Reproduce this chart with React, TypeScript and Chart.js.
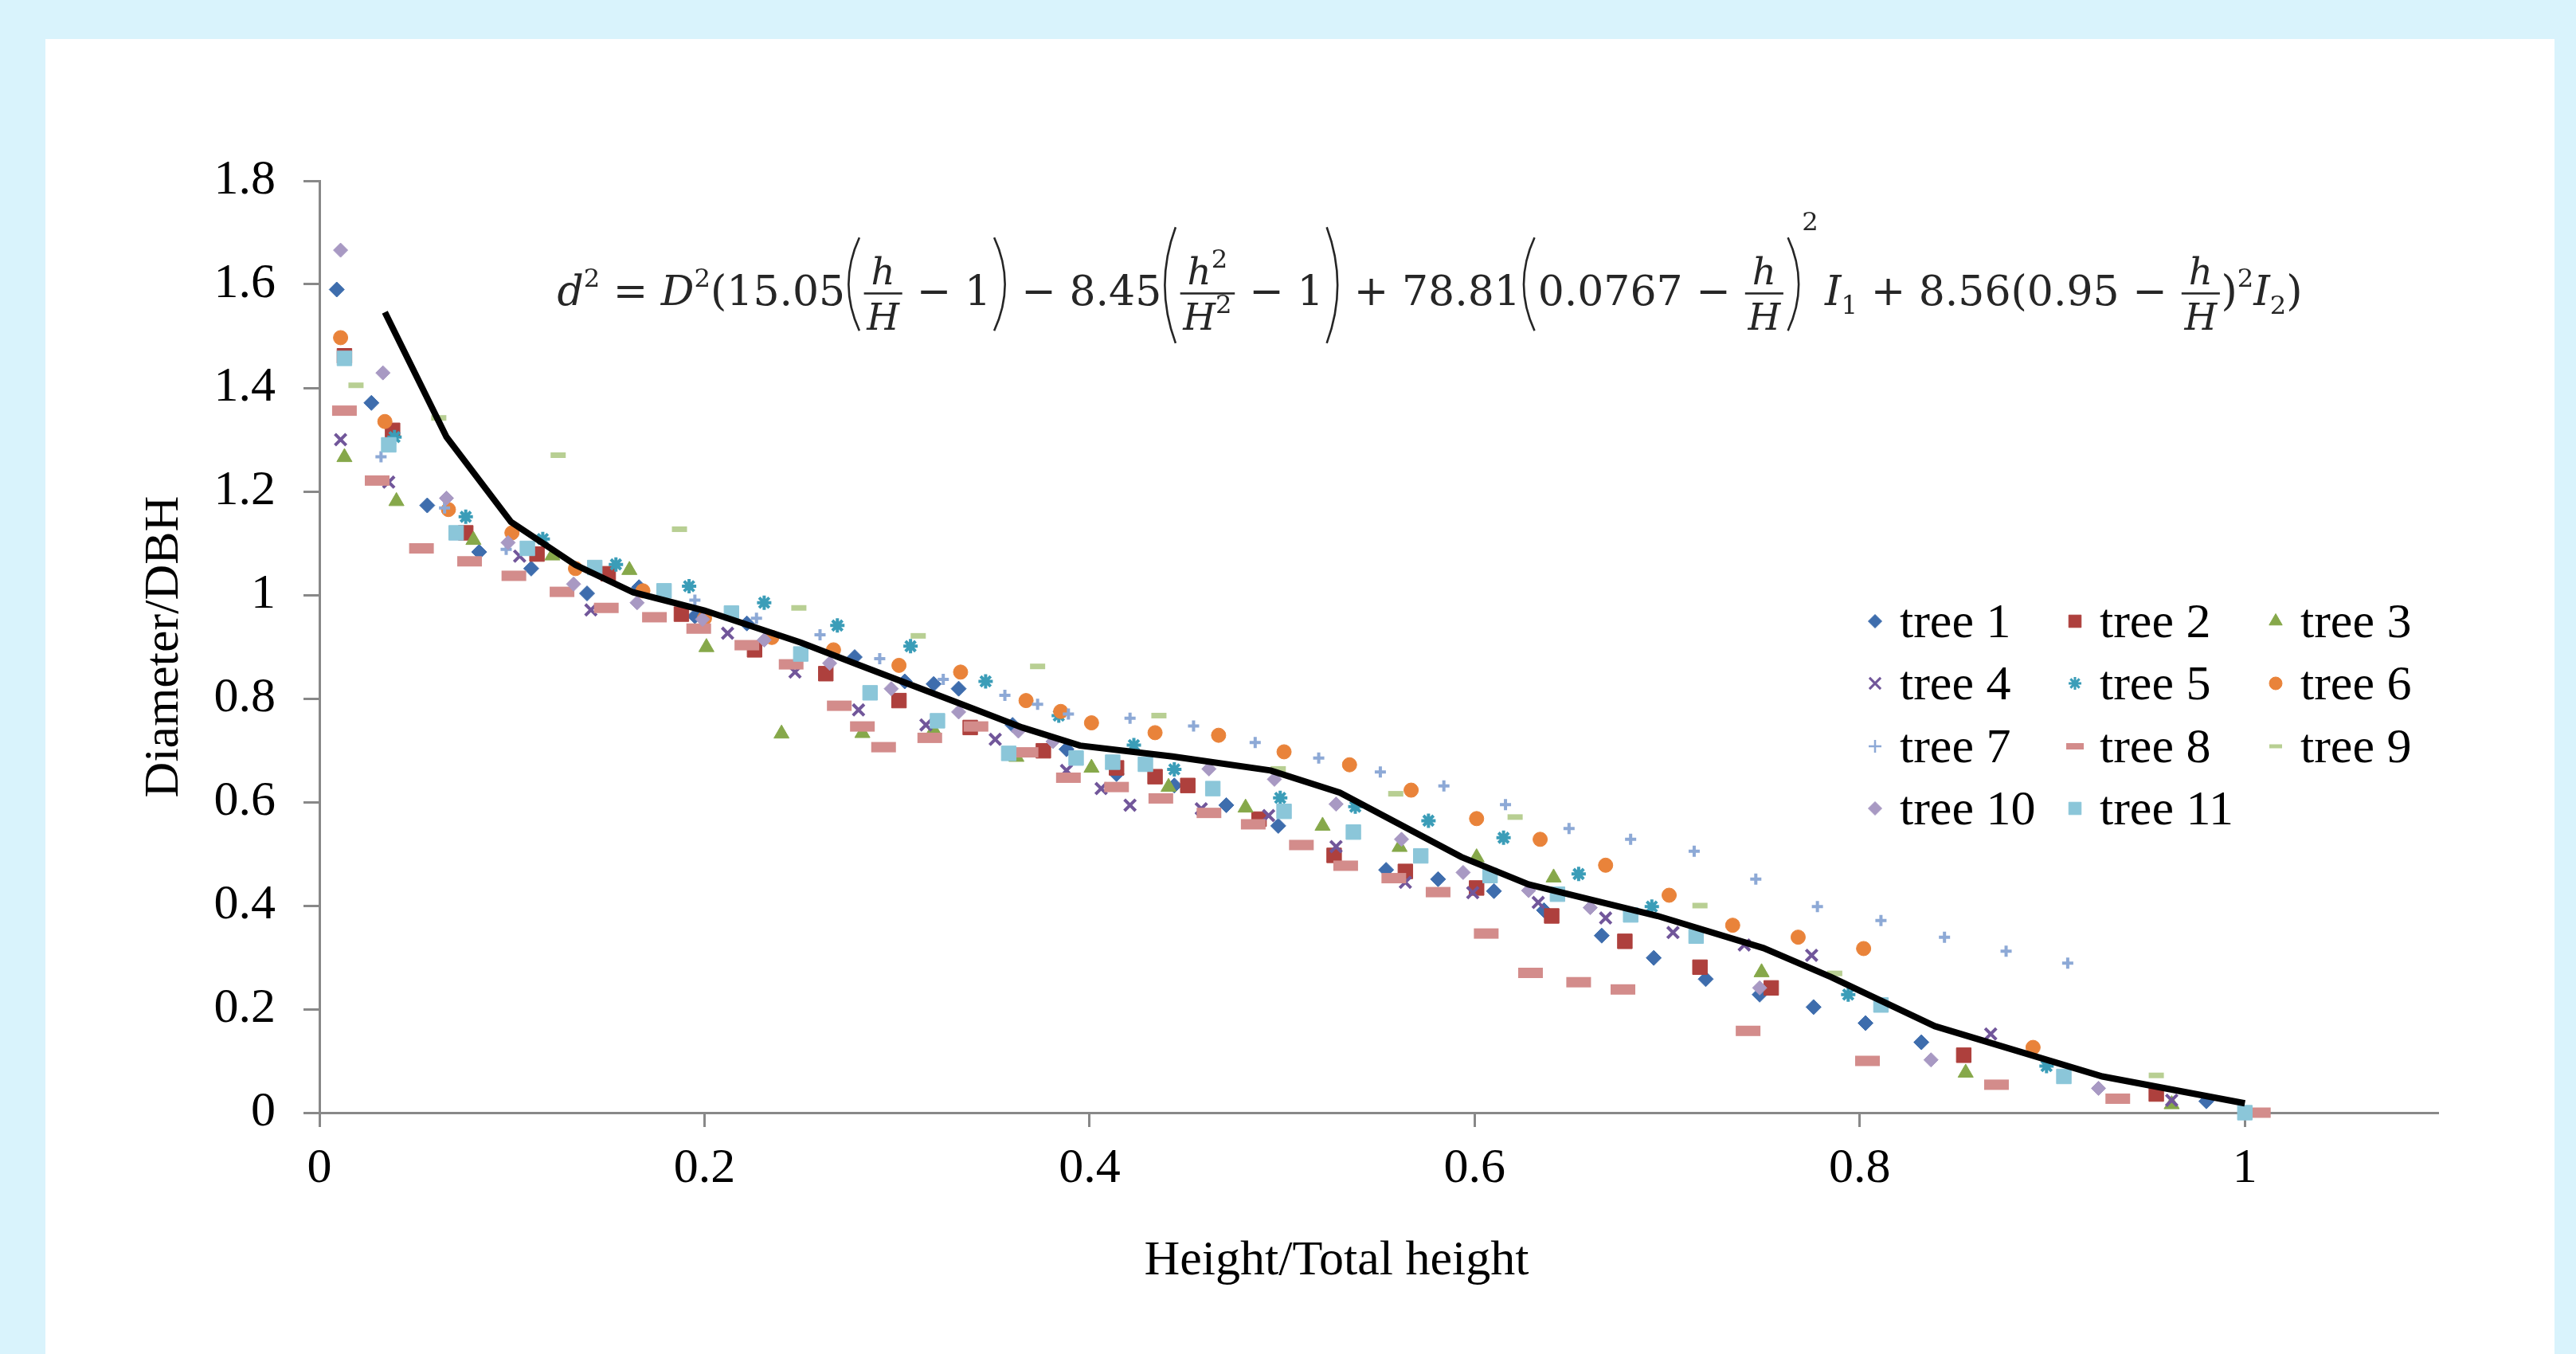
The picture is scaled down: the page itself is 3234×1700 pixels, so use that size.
import React, { useEffect, useRef } from 'react';
import { Chart, registerables } from 'chart.js';
import { drawPoint } from 'chart.js/helpers';

Chart.register(...registerables);

type Pt = [number, number];

// ---------------- DATA ----------------
const seriesLabels = ['tree 1', 'tree 2', 'tree 3', 'tree 4', 'tree 5', 'tree 6', 'tree 7', 'tree 8', 'tree 9', 'tree 10', 'tree 11'];

const tree1: Pt[] = [[0.009,1.590],[0.027,1.371],[0.056,1.173],[0.083,1.083],[0.110,1.051],[0.139,1.003],[0.166,1.015],[0.195,0.959],[0.222,0.945],[0.278,0.880],[0.304,0.833],[0.319,0.828],[0.332,0.819],[0.360,0.749],[0.388,0.702],[0.414,0.654],[0.444,0.632],[0.471,0.594],[0.498,0.554],[0.554,0.469],[0.581,0.451],[0.610,0.428],[0.636,0.391],[0.666,0.342],[0.693,0.299],[0.720,0.258],[0.748,0.228],[0.776,0.204],[0.803,0.173],[0.832,0.136],[0.980,0.022]];
const tree2: Pt[] = [[0.013,1.462],[0.038,1.318],[0.076,1.120],[0.113,1.079],[0.150,1.041],[0.188,0.963],[0.226,0.894],[0.263,0.848],[0.301,0.796],[0.338,0.744],[0.376,0.699],[0.414,0.666],[0.434,0.649],[0.451,0.632],[0.488,0.567],[0.527,0.497],[0.564,0.466],[0.601,0.434],[0.640,0.380],[0.678,0.331],[0.717,0.281],[0.754,0.241],[0.854,0.111],[0.954,0.036]];
const tree3: Pt[] = [[0.013,1.266],[0.040,1.181],[0.080,1.106],[0.121,1.076],[0.161,1.048],[0.201,0.899],[0.240,0.732],[0.282,0.733],[0.319,0.739],[0.362,0.687],[0.401,0.666],[0.441,0.629],[0.481,0.589],[0.521,0.554],[0.561,0.513],[0.601,0.493],[0.641,0.454],[0.749,0.271],[0.855,0.077],[0.962,0.016]];
const tree4: Pt[] = [[0.011,1.300],[0.036,1.218],[0.104,1.075],[0.141,0.971],[0.212,0.926],[0.247,0.851],[0.280,0.778],[0.315,0.749],[0.351,0.721],[0.388,0.661],[0.406,0.626],[0.421,0.594],[0.458,0.587],[0.493,0.574],[0.528,0.514],[0.564,0.445],[0.599,0.425],[0.633,0.406],[0.668,0.376],[0.703,0.348],[0.740,0.324],[0.775,0.304],[0.868,0.152],[0.962,0.024]];
const tree5: Pt[] = [[0.039,1.305],[0.076,1.151],[0.116,1.108],[0.154,1.059],[0.192,1.017],[0.231,0.985],[0.269,0.941],[0.307,0.901],[0.346,0.833],[0.384,0.767],[0.423,0.710],[0.444,0.663],[0.499,0.608],[0.538,0.591],[0.576,0.564],[0.615,0.531],[0.654,0.461],[0.692,0.398],[0.794,0.228],[0.897,0.090]];
const tree6: Pt[] = [[0.011,1.497],[0.034,1.335],[0.067,1.165],[0.100,1.120],[0.133,1.051],[0.168,1.008],[0.200,0.955],[0.235,0.918],[0.267,0.894],[0.301,0.864],[0.333,0.851],[0.367,0.796],[0.385,0.775],[0.401,0.753],[0.434,0.734],[0.467,0.729],[0.501,0.697],[0.535,0.672],[0.567,0.623],[0.601,0.568],[0.634,0.528],[0.668,0.478],[0.701,0.420],[0.734,0.362],[0.768,0.339],[0.802,0.317],[0.890,0.126]];
const tree7: Pt[] = [[0.032,1.267],[0.065,1.168],[0.097,1.088],[0.195,0.990],[0.227,0.955],[0.260,0.923],[0.291,0.877],[0.324,0.837],[0.356,0.806],[0.373,0.789],[0.389,0.770],[0.421,0.762],[0.454,0.747],[0.486,0.715],[0.519,0.685],[0.551,0.658],[0.584,0.631],[0.616,0.595],[0.649,0.549],[0.681,0.528],[0.714,0.505],[0.746,0.451],[0.778,0.398],[0.811,0.371],[0.844,0.339],[0.876,0.312],[0.908,0.289]];
const tree8: Pt[] = [[0.013,1.356],[0.030,1.221],[0.053,1.090],[0.078,1.065],[0.101,1.037],[0.126,1.006],[0.149,0.975],[0.174,0.957],[0.197,0.935],[0.222,0.903],[0.245,0.866],[0.270,0.786],[0.282,0.746],[0.293,0.706],[0.317,0.724],[0.341,0.746],[0.367,0.696],[0.389,0.647],[0.414,0.629],[0.437,0.607],[0.462,0.579],[0.485,0.557],[0.510,0.517],[0.533,0.477],[0.558,0.453],[0.581,0.426],[0.606,0.346],[0.629,0.270],[0.654,0.252],[0.677,0.238],[0.742,0.158],[0.804,0.100],[0.871,0.054],[0.934,0.027],[1.007,0.000]];
const tree9: Pt[] = [[0.019,1.405],[0.062,1.342],[0.124,1.270],[0.187,1.127],[0.249,0.975],[0.311,0.921],[0.373,0.862],[0.436,0.767],[0.498,0.664],[0.559,0.616],[0.621,0.571],[0.717,0.400],[0.787,0.269],[0.954,0.072]];
const tree10: Pt[] = [[0.011,1.666],[0.033,1.429],[0.066,1.187],[0.098,1.101],[0.132,1.021],[0.165,0.985],[0.199,0.953],[0.231,0.913],[0.265,0.868],[0.297,0.819],[0.332,0.774],[0.363,0.737],[0.381,0.717],[0.462,0.664],[0.496,0.644],[0.528,0.596],[0.562,0.528],[0.594,0.464],[0.628,0.429],[0.660,0.396],[0.748,0.241],[0.837,0.102],[0.924,0.047]];
const tree11: Pt[] = [[0.013,1.457],[0.036,1.290],[0.071,1.120],[0.108,1.090],[0.143,1.053],[0.179,1.008],[0.214,0.965],[0.250,0.886],[0.286,0.811],[0.321,0.757],[0.358,0.694],[0.393,0.685],[0.412,0.677],[0.429,0.673],[0.464,0.626],[0.501,0.582],[0.537,0.542],[0.572,0.496],[0.608,0.458],[0.643,0.422],[0.681,0.382],[0.715,0.341],[0.811,0.208],[0.906,0.070],[1.000,0.000]];

// fitted taper model curve
const fitLine: Pt[] = [[0.034,1.546],[0.066,1.305],[0.0995,1.141],[0.133,1.058],[0.163,1.005],[0.200,0.970],[0.250,0.908],[0.280,0.865],[0.332,0.791],[0.365,0.744],[0.395,0.709],[0.443,0.688],[0.494,0.661],[0.530,0.618],[0.593,0.494],[0.628,0.441],[0.695,0.380],[0.750,0.318],[0.785,0.262],[0.839,0.167],[0.926,0.070],[1.000,0.018]];

const xMin = 0, xMax = 1.1, xStep = 0.2;
const yMin = 0, yMax = 1.8, yStep = 0.2;
const xTitle = 'Height/Total height';
const yTitle = 'Diameter/DBH';

const treeSeries = [tree1, tree2, tree3, tree4, tree5, tree6, tree7, tree8, tree9, tree10, tree11];

// ---------------- STYLES ----------------
const seriesStyles = [
  { color: '#3E6DAD', pointStyle: 'rectRot', radius: 9.5, borderWidth: 1, lr: 8.5, lb: 1 },
  { color: '#AE403D', pointStyle: 'rect', radius: 13, borderWidth: 1, lr: 11, lb: 1 },
  { color: '#86A84A', pointStyle: 'triangle', radius: 11, borderWidth: 1, lr: 9.5, lb: 1 },
  { color: '#71569A', pointStyle: 'crossRot', radius: 10, borderWidth: 4, lr: 10, lb: 3 },
  { color: '#3B9DB8', pointStyle: 'star', radius: 9, borderWidth: 4, lr: 8, lb: 3 },
  { color: '#E9833A', pointStyle: 'circle', radius: 9, borderWidth: 1, lr: 8, lb: 1 },
  { color: '#8DA9D6', pointStyle: 'cross', radius: 7, borderWidth: 4, lr: 8, lb: 2.5 },
  { color: '#D38C8B', pointStyle: 'line', radius: 15.5, borderWidth: 13, lr: 11, lb: 8 },
  { color: '#B8CF93', pointStyle: 'line', radius: 9.5, borderWidth: 7, lr: 8, lb: 5 },
  { color: '#A899C3', pointStyle: 'rectRot', radius: 9, borderWidth: 1, lr: 8.5, lb: 1 },
  { color: '#8BC6D9', pointStyle: 'rect', radius: 13, borderWidth: 1, lr: 11, lb: 1 },
];

const SERIF = '"Liberation Serif", "Times New Roman", serif';
const MATH = '"DejaVu Serif", serif';
const AXIS = '#888888';
const FS_MAIN = 62;

const fmtTick = (v: any) => String(Math.round(Number(v) * 10) / 10);

function drawEquation(ctx: CanvasRenderingContext2D) {
  const F = 52;
  const FS = 0.62 * F;
  const FF = 0.9 * F;
  const base = 383;
  const bar = base - 0.28 * F;
  const centerX = 1795;
  ctx.fillStyle = '#262626';
  ctx.strokeStyle = '#262626';
  ctx.textBaseline = 'alphabetic';
  ctx.textAlign = 'left';
  type Item = { w: number; draw: (x: number) => void };
  const fnt = (size: number, italic = false) => `${italic ? 'italic ' : ''}${size}px ${MATH}`;
  const T = (s: string, size = F, italic = false, dy = 0): Item => {
    ctx.font = fnt(size, italic);
    const w = ctx.measureText(s).width;
    return { w, draw: (x) => { ctx.font = fnt(size, italic); ctx.fillText(s, x, base + dy); } };
  };
  const row = (items: Item[]): Item => ({
    w: items.reduce((a, b) => a + b.w, 0),
    draw: (x) => { let cx = x; for (const it of items) { it.draw(cx); cx += it.w; } },
  });
  const numDy = -0.5 * F;
  const denDy = 0.6 * F;
  const frac = (num: Item[], den: Item[]): Item => {
    const n = row(num), d = row(den);
    const pad = 0.1 * F;
    const w = Math.max(n.w, d.w) + 2 * pad;
    return { w, draw: (x) => {
      n.draw(x + (w - n.w) / 2);
      d.draw(x + (w - d.w) / 2);
      ctx.fillRect(x + pad * 0.3, bar - 1.3, w - pad * 0.6, 2.6);
    } };
  };
  const paren = (left: boolean, top: number, bottom: number): Item => {
    const w = 0.42 * F;
    return { w, draw: (x) => {
      const outer = left ? x + 0.34 * F : x + 0.08 * F;
      const inner = left ? x + 0.08 * F : x + 0.34 * F;
      const c = 2 * inner - outer;
      ctx.beginPath();
      ctx.moveTo(outer, top);
      ctx.quadraticCurveTo(c, (top + bottom) / 2, outer, bottom);
      ctx.lineWidth = 2.6;
      ctx.stroke();
    } };
  };
  const hH = () => frac([T('h', FF, true, numDy)], [T('H', FF, true, denDy)]);
  const t1 = bar - 1.35 * F, b1 = bar + 0.9 * F;
  const t2 = bar - 1.6 * F, b2 = bar + 1.2 * F;
  const items: Item[] = [
    T('d', F, true), T('2', FS, false, -0.45 * F), T(' = ', F),
    T('D', F, true), T('2', FS, false, -0.45 * F), T('(15.05', F),
    paren(true, t1, b1), hH(), T(' \u2212 1', F), paren(false, t1, b1),
    T(' \u2212 8.45', F),
    paren(true, t2, b2),
    frac([T('h', FF, true, numDy), T('2', FS, false, numDy - 0.4 * F)], [T('H', FF, true, denDy), T('2', FS, false, denDy - 0.4 * F)]),
    T(' \u2212 1', F), paren(false, t2, b2),
    T(' + 78.81', F), paren(true, t1, b1), T('0.0767 \u2212 ', F), hH(), paren(false, t1, b1),
    T('2', FS, false, -1.8 * F), T(' ', F * 0.5),
    T('I', F, true), T('1', FS, false, 0.22 * F),
    T(' + 8.56(0.95 \u2212 ', F), hH(), T(')', F), T('2', FS, false, -0.45 * F),
    T('I', F, true), T('2', FS, false, 0.22 * F), T(')', F),
  ];
  const all = row(items);
  all.draw(centerX - all.w / 2);
}

function drawLegend(ctx: CanvasRenderingContext2D) {
  const colX = [2354, 2605, 2857];
  const rowY = [780, 858, 937, 1015];
  seriesLabels.forEach((label, i) => {
    const c = i % 3, r = Math.floor(i / 3);
    const x = colX[c], y = rowY[r];
    const st = seriesStyles[i];
    ctx.save();
    ctx.fillStyle = st.color;
    ctx.strokeStyle = st.color;
    ctx.lineWidth = st.lb;
    drawPoint(ctx, { pointStyle: st.pointStyle, radius: st.lr, rotation: 0, borderWidth: st.lb } as any, x, y);
    ctx.restore();
    ctx.font = `${FS_MAIN}px ${SERIF}`;
    ctx.fillStyle = '#000';
    ctx.textAlign = 'left';
    ctx.textBaseline = 'alphabetic';
    ctx.fillText(label, x + 31, y + 20);
  });
}

function drawXTitle(ctx: CanvasRenderingContext2D) {
  ctx.font = `${FS_MAIN}px ${SERIF}`;
  ctx.fillStyle = '#000';
  ctx.textAlign = 'center';
  ctx.textBaseline = 'alphabetic';
  ctx.fillText(xTitle, 1678, 1600);
}

const overlayPlugin = {
  id: 'overlay',
  afterDraw(chart: any) {
    const ctx = chart.ctx as CanvasRenderingContext2D;
    ctx.save();
    drawEquation(ctx);
    drawLegend(ctx);
    drawXTitle(ctx);
    ctx.restore();
  },
};

export default function App() {
  const ref = useRef<HTMLCanvasElement | null>(null);
  useEffect(() => {
    if (!ref.current) return;
    const datasets: any[] = [
      {
        type: 'line',
        label: 'model',
        data: fitLine.map(([x, y]) => ({ x, y })),
        borderColor: '#000000',
        backgroundColor: '#000000',
        borderWidth: 8,
        pointRadius: 0,
        showLine: true,
        fill: false,
        tension: 0,
        order: 0,
        clip: false,
      },
      ...treeSeries.map((d, i) => {
        const st = seriesStyles[i];
        return {
          type: 'scatter',
          label: seriesLabels[i],
          data: d.map(([x, y]) => ({ x, y })),
          pointStyle: st.pointStyle,
          pointRadius: st.radius,
          pointBackgroundColor: st.color,
          pointBorderColor: st.color,
          pointBorderWidth: st.borderWidth,
          showLine: false,
          order: 20 - i,
          clip: false,
        };
      }),
    ];
    const tickFont = { family: SERIF, size: FS_MAIN };
    const chart = new Chart(ref.current, {
      type: 'scatter',
      data: { datasets },
      options: {
        responsive: false,
        animation: false,
        devicePixelRatio: 1,
        events: [],
        layout: { padding: { left: 0, top: 227, right: 174, bottom: 0 } },
        plugins: { legend: { display: false }, tooltip: { enabled: false }, title: { display: false } },
        scales: {
          x: {
            type: 'linear',
            min: xMin,
            max: xMax,
            afterFit: (s: any) => { s.height = 303; },
            ticks: { stepSize: xStep, includeBounds: false, font: tickFont, color: '#000', padding: 16, maxRotation: 0, autoSkip: false, callback: fmtTick },
            grid: { drawOnChartArea: false, drawTicks: true, tickLength: 18, color: AXIS, lineWidth: 3 },
            border: { display: true, color: AXIS, width: 3 },
            title: { display: false },
          },
          y: {
            type: 'linear',
            min: yMin,
            max: yMax,
            afterFit: (s: any) => { s.width = 401; },
            ticks: { stepSize: yStep, font: tickFont, color: '#000', padding: 35, autoSkip: false, callback: fmtTick },
            grid: { drawOnChartArea: false, drawTicks: true, tickLength: 20, color: AXIS, lineWidth: 3 },
            border: { display: true, color: AXIS, width: 3 },
            title: { display: true, text: yTitle, font: { family: SERIF, size: FS_MAIN }, color: '#000', padding: { top: 170, bottom: 0 } },
          },
        },
      } as any,
      plugins: [overlayPlugin as any],
    });
    return () => chart.destroy();
  }, []);
  return (
    <div style={{ position: 'relative', width: 3234, height: 1700, background: '#D9F3FC', overflow: 'hidden' }}>
      <style>{'html,body{margin:0;padding:0;}'}</style>
      <div style={{ position: 'absolute', left: 57, top: 49, width: 3150, height: 1651, background: '#FFFFFF' }} />
      <canvas ref={ref} width={3234} height={1700} style={{ position: 'absolute', left: 0, top: 0, width: 3234, height: 1700 }} />
    </div>
  );
}
